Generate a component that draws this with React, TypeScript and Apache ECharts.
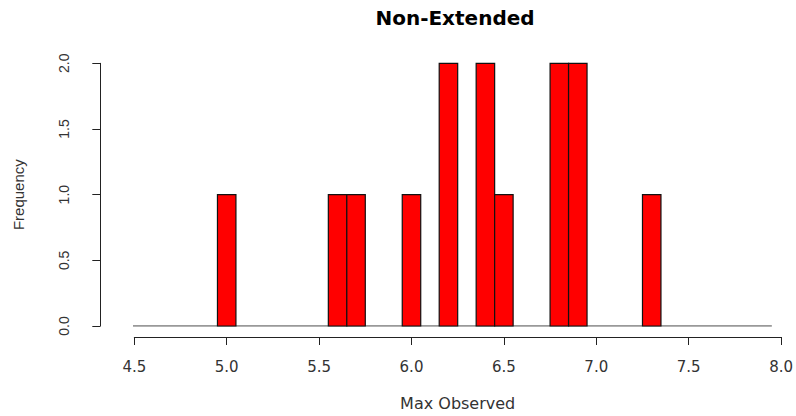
import React, { useEffect, useRef } from "react";
import * as echarts from "echarts";

const binLeft = [4.95, 5.55, 5.65, 5.95, 6.15, 6.35, 6.45, 6.75, 6.85, 7.25];
const binWidth = 0.1;
const counts = [1, 1, 1, 1, 2, 2, 1, 2, 2, 1];
const baselineRange = [4.45, 7.95];
const xTicks = { min: 4.5, max: 8.0, interval: 0.5 };
const yTicks = { min: 0, max: 2, interval: 0.5 };
const titleText = "Non-Extended";
const xName = "Max Observed";
const yName = "Frequency";

export default function App() {
  const ref = useRef<HTMLDivElement>(null);
  useEffect(() => {
    if (!ref.current) return;
    const chart = echarts.init(ref.current, null, { renderer: "svg" });
    const wide = "'DejaVu Sans', Verdana, sans-serif";
    const narrow = "'Liberation Sans', Arial, sans-serif";
    const barData = binLeft.map((l, i) => [l, l + binWidth, counts[i]]);
    chart.setOption({
      animation: false,
      backgroundColor: "#ffffff",
      title: {
        text: titleText,
        left: 450,
        textAlign: "center",
        top: 3,
        textStyle: { fontFamily: wide, fontSize: 20, fontWeight: "bold", color: "#000" },
      },
      grid: { left: 134.3, right: 14.3, top: 63.3, bottom: 86 },
      xAxis: {
        type: "value",
        min: xTicks.min,
        max: xTicks.max,
        interval: xTicks.interval,
        offset: 11,
        name: xName,
        nameLocation: "middle",
        nameGap: 58,
        nameTextStyle: { fontFamily: wide, fontSize: 16, color: "#333" },
        splitLine: { show: false },
        axisLine: { show: true, onZero: false, lineStyle: { color: "#222", width: 1 } },
        axisTick: { show: true, length: 8, lineStyle: { color: "#222" } },
        axisLabel: {
          fontFamily: wide,
          fontSize: 15,
          color: "#333",
          margin: 22,
          formatter: (v: number) => v.toFixed(1),
        },
      },
      yAxis: {
        type: "value",
        min: yTicks.min,
        max: yTicks.max,
        interval: yTicks.interval,
        offset: 34,
        name: yName,
        nameLocation: "middle",
        nameGap: 74,
        nameTextStyle: { fontFamily: narrow, fontSize: 15, color: "#333" },
        splitLine: { show: false },
        axisLine: { show: true, onZero: false, lineStyle: { color: "#222", width: 1 } },
        axisTick: { show: true, length: 8, lineStyle: { color: "#222" } },
        axisLabel: {
          fontFamily: narrow,
          fontSize: 14,
          color: "#333",
          rotate: 90,
          margin: 29,
          formatter: (v: number) => v.toFixed(1),
        },
      },
      series: [
        {
          type: "line",
          data: [
            [baselineRange[0], 0],
            [baselineRange[1], 0],
          ],
          symbol: "none",
          lineStyle: { color: "#777", width: 1.5 },
          z: 1,
        },
        {
          type: "custom",
          data: barData,
          z: 2,
          renderItem: (params: any, api: any) => {
            const p0 = api.coord([api.value(0), api.value(2)]);
            const p1 = api.coord([api.value(1), 0]);
            return {
              type: "rect",
              shape: { x: p0[0], y: p0[1], width: p1[0] - p0[0], height: p1[1] - p0[1] },
              style: { fill: "#ff0000", stroke: "#111", lineWidth: 1.2 },
            };
          },
        },
      ],
    });
    return () => chart.dispose();
  }, []);
  return <div ref={ref} style={{ width: 796, height: 416, position: "absolute", left: 0, top: 0 }} />;
}
